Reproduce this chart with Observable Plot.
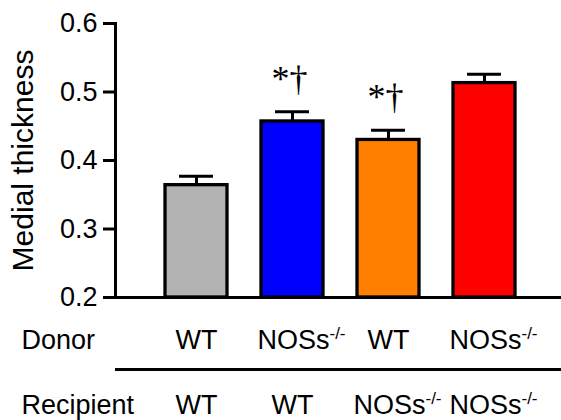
<!DOCTYPE html>
<html>
<head>
<meta charset="utf-8">
<script src="https://cdn.jsdelivr.net/npm/d3@7"></script>
<script src="https://cdn.jsdelivr.net/npm/@observablehq/plot@0.6"></script>
<style>
  html, body { margin: 0; padding: 0; background: white; }
</style>
</head>
<body>
<div id="chart"></div>
<script>
// ---- data ----
const groups = ["WT/WT", "NOSs-/-/WT", "WT/NOSs-/-", "NOSs-/-/NOSs-/-"];
const donor = ["WT", "NOSs-/-", "WT", "NOSs-/-"];
const recipient = ["WT", "WT", "NOSs-/-", "NOSs-/-"];
const thickness = [0.364, 0.457, 0.430, 0.513];
const sem = [0.013, 0.014, 0.014, 0.013];
const significance = ["", "*†", "*†", ""];
const barColors = ["#b3b3b3", "#0000ff", "#ff8000", "#ff0000"];
const yTicks = [0.2, 0.3, 0.4, 0.5, 0.6];
const yLabel = "Medial thickness";
const rowLabels = ["Donor", "Recipient"];

const data = groups.map((g, i) => ({
  group: g, donor: donor[i], recipient: recipient[i],
  value: thickness[i], sem: sem[i], sig: significance[i]
}));

const base = yTicks[0];

const chart = Plot.plot({
  width: 561,
  height: 420,
  marginTop: 23,
  marginBottom: 123,
  marginLeft: 115,
  marginRight: 0,
  style: {
    fontFamily: "'Liberation Sans', Arial, sans-serif",
    fontSize: "27px",
    color: "black",
    background: "white",
    overflow: "visible"
  },
  x: {domain: groups, paddingInner: 0.35, paddingOuter: 0.474, align: 0.527, axis: null},
  y: {domain: [yTicks[0], yTicks[yTicks.length - 1]], axis: null},
  color: {domain: groups, range: barColors},
  marks: [
    Plot.ruleX(data, {x: "group", y1: "value", y2: d => d.value + d.sem, stroke: "black", strokeWidth: 3}),
    Plot.tickY(data, {x: "group", y: d => d.value + d.sem, stroke: "black", strokeWidth: 3, insetLeft: 14, insetRight: 14}),
    Plot.barY(data, {x: "group", y1: base, y2: "value", fill: "group", stroke: "black", strokeWidth: 3.3}),
    Plot.ruleY([base], {stroke: "black", strokeWidth: 3}),
    Plot.frame({anchor: "left", stroke: "black", strokeWidth: 3}),
    Plot.axisY({ticks: yTicks, tickSize: 12, tickPadding: 6, tickFormat: ".1f", fontSize: 27, strokeWidth: 3, label: null}),
    Plot.text([yLabel], {frameAnchor: "left", textAnchor: "middle", lineAnchor: "middle", rotate: -90, dx: -92, fontSize: 30, letterSpacing: "0.5px"}),
    Plot.text(data.filter(d => d.sig), {x: "group", y: d => d.value + d.sem, text: "sig", dy: -21, dx: -3,
      lineAnchor: "bottom", fontFamily: "'Liberation Serif', 'Times New Roman', serif", fontSize: 36}),
    Plot.text([rowLabels[0]], {frameAnchor: "bottom-left", textAnchor: "start", dx: -94, dy: 51, lineAnchor: "bottom", letterSpacing: "0.5px"}),
    Plot.text(data, {x: "group", text: "donor", frameAnchor: "bottom", dy: 51, lineAnchor: "bottom"}),
    Plot.ruleY([base], {dy: 72, stroke: "black", strokeWidth: 3}),
    Plot.text([rowLabels[1]], {frameAnchor: "bottom-left", textAnchor: "start", dx: -94, dy: 116, lineAnchor: "bottom", letterSpacing: "0.5px"}),
    Plot.text(data, {x: "group", text: "recipient", frameAnchor: "bottom", dy: 116, lineAnchor: "bottom"})
  ]
});

// superscripts for "-/-"
d3.select(chart).selectAll("text").each(function() {
  const t = this.textContent;
  if (t.endsWith("-/-") && !this.querySelector("tspan")) {
    const main = t.slice(0, -3);
    this.textContent = "";
    d3.select(this).append("tspan").text(main);
    d3.select(this).append("tspan").attr("dy", -10).attr("font-size", 17).text("-/-");
    d3.select(this).attr("dx", 9);
  }
});

document.getElementById("chart").appendChild(chart);
</script>
</body>
</html>
